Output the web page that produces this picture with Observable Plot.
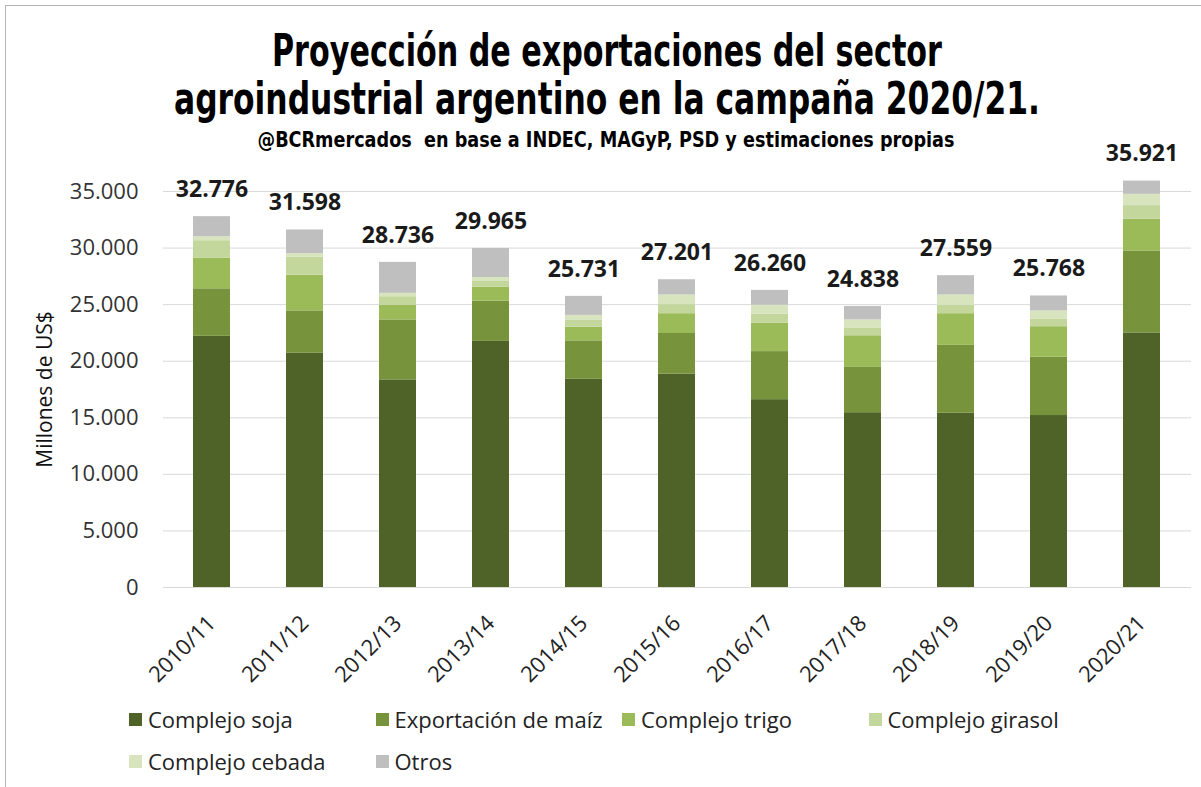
<!DOCTYPE html>
<html>
<head>
<meta charset="utf-8">
<script src="https://cdn.jsdelivr.net/npm/d3@7"></script>
<script src="https://cdn.jsdelivr.net/npm/@observablehq/plot@0.6"></script>
<style>
  body { margin: 0; background: #fff; }
  #wrap { position: relative; width: 1201px; height: 787px; overflow: hidden; font-family: "Open Sans", sans-serif; background: #fff; }
  #frame { position: absolute; left: 5px; top: 5px; width: 1210px; height: 800px; border-left: 1px solid #b4b4b4; border-top: 1px solid #b4b4b4; pointer-events: none; }
  #header { position: relative; height: 145px; }
  .t { position: absolute; left: 0; top: 0; white-space: nowrap; font-family: "Liberation Sans Narrow", "DejaVu Sans Condensed", "Liberation Sans", sans-serif; font-weight: bold; color: #000; line-height: 1; transform-origin: 0 0; }
  #plot { position: relative; height: 560px; }
  #legend { position: relative; height: 82px; }
  .li { position: absolute; display: flex; align-items: center; font-size: 22px; color: #222; white-space: nowrap; }
  .sw { width: 13px; height: 13px; margin-right: 6px; flex: none; }
</style>
</head>
<body>
<div id="wrap">
  <div id="header">
    <div class="t" id="t1" data-w="670" data-cx="607" data-top="28" style="font-size:45px">Proyección de exportaciones del sector</div>
    <div class="t" id="t2" data-w="866" data-cx="607" data-top="76" style="font-size:45px">agroindustrial argentino en la campaña 2020/21.</div>
    <div class="t" id="t3" data-w="697" data-cx="606" data-top="129" style="font-size:22px">@BCRmercados&nbsp; en base a INDEC, MAGyP, PSD y estimaciones propias</div>
  </div>
  <div id="plot"></div>
  <div id="legend"></div>
  <div id="frame"></div>
</div>
<script>
// ---- Data ----
const categories = ["2010/11","2011/12","2012/13","2013/14","2014/15","2015/16","2016/17","2017/18","2018/19","2019/20","2020/21"];
const series = ["Complejo soja","Exportación de maíz","Complejo trigo","Complejo girasol","Complejo cebada","Otros"];
const colors = ["#4f6228","#77933c","#9bbb59","#c3d69b","#d7e4bd","#bfbfbf"];
const soja    = [22200, 20700, 18350, 21750, 18400, 18850, 16600, 15450, 15400, 15200, 22500];
const maiz    = [ 4200,  3750,  5300,  3550,  3400,  3600,  4250,  4000,  6000,  5150,  7250];
const trigo   = [ 2700,  3150,  1300,  1250,  1200,  1750,  2500,  2800,  2800,  2700,  2800];
const girasol = [ 1550,  1600,   750,   500,   650,   800,   800,   650,   750,   650,  1200];
const cebada  = [  350,   300,   300,   350,   400,   850,   800,   750,   900,   750,  1000];
const otros   = [ 1776,  2098,  2736,  2565,  1681,  1351,  1310,  1188,  1709,  1318,  1171];
const totals  = [32776, 31598, 28736, 29965, 25731, 27201, 26260, 24838, 27559, 25768, 35921];
const yTicks  = [0, 5000, 10000, 15000, 20000, 25000, 30000, 35000];
const yLabel  = "Millones de US$";

// ---- Tables built from the arrays ----
const seriesValues = [soja, maiz, trigo, girasol, cebada, otros];
const rows = [];
categories.forEach((c, i) => series.forEach((s, j) => rows.push({campana: c, serie: s, valor: seriesValues[j][i]})));
const totalRows = categories.map((c, i) => ({campana: c, total: totals[i]}));
const fmt = d => d3.format(",")(d).replace(/,/g, ".");

// ---- Title fitting ----
document.querySelectorAll(".t").forEach(el => {
  const w = el.getBoundingClientRect().width;
  const target = +el.dataset.w;
  const s = target / w;
  const left = +el.dataset.cx - target / 2;
  el.style.transform = `translate(${left}px, ${el.dataset.top}px) scaleX(${s})`;
});

// ---- Chart ----
const chart = Plot.plot({
  width: 1201,
  height: 560,
  marginTop: 46,
  marginBottom: 118,
  marginLeft: 163,
  marginRight: 10,
  style: {background: "transparent", overflow: "visible", fontFamily: "'Open Sans', sans-serif"},
  x: {domain: categories, paddingInner: 0.6, paddingOuter: 0.3, label: null},
  y: {domain: [0, 35000], label: null},
  color: {domain: series, range: colors},
  marks: [
    Plot.gridY(yTicks, {stroke: "#d9d9d9", strokeOpacity: 1}),
    Plot.barY(rows, Plot.stackY({x: "campana", y: "valor", fill: "serie", order: series})),
    Plot.text(totalRows, {x: "campana", y: "total", text: d => fmt(d.total), dy: -27, fontSize: 23, fontWeight: "bold", fill: "#1a1a1a"}),
    Plot.axisY(yTicks, {tickSize: 0, tickPadding: 25, tickFormat: fmt, fontSize: 22, color: "#333", label: null}),
    Plot.axisX({tickSize: 0, tickPadding: 32, tickRotate: -45, fontSize: 22, color: "#222", label: null}),
    Plot.text([yLabel], {text: d => d, frameAnchor: "left", textAnchor: "middle", dx: -118, rotate: -90, fontSize: 21, fill: "#111"})
  ]
});
document.getElementById("plot").appendChild(chart);

// ---- Legend ----
const legend = document.getElementById("legend");
series.forEach((s, j) => {
  const row = Math.floor(j / 4), col = j % 4;
  const item = document.createElement("div");
  item.className = "li";
  item.style.left = (129 + col * 246.5) + "px";
  item.style.top = (-1 + row * 42) + "px";
  item.innerHTML = `<span class="sw" style="background:${colors[j]}"></span><span>${s}</span>`;
  legend.appendChild(item);
});
</script>
</body>
</html>
